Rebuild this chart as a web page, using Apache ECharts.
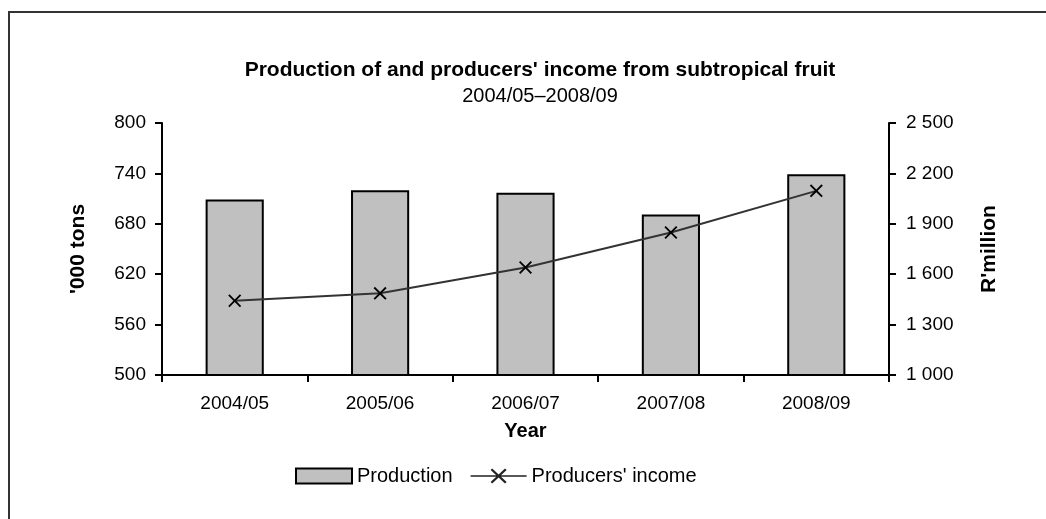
<!DOCTYPE html>
<html>
<head>
<meta charset="utf-8">
<script src="https://cdn.jsdelivr.net/npm/echarts@6/dist/echarts.min.js"></script>
<style>
html,body{margin:0;padding:0;background:#fff;}
#chart{width:1046px;height:519px;}
</style>
</head>
<body>
<div id="chart"></div>
<script>
const categories = ['2004/05', '2005/06', '2006/07', '2007/08', '2008/09'];
const production = [709, 720, 717, 691, 739];
const income = [1442, 1486, 1640, 1848, 2096];
const leftTicks = {min: 500, max: 800, interval: 60};
const rightTicks = {min: 1000, max: 2500, interval: 300};

const FONT = '"Liberation Sans", Arial, sans-serif';
const xPath = 'path://M0,1L1,0L5,4L9,0L10,1L6,5L10,9L9,10L5,6L1,10L0,9L4,5Z';
const legendLinePath = 'path://M0,6.8L56,6.8L56,8.2L0,8.2Z' +
  'M20,1.5L21.6,0L28,6L34.4,0L36,1.5L29.6,7.5L36,13.5L34.4,15L28,9L21.6,15L20,13.5L26.4,7.5Z';

const chart = echarts.init(document.getElementById('chart'));
chart.setOption({
  backgroundColor: '#fff',
  animation: false,
  graphic: [{
    type: 'rect',
    shape: {x: 9, y: 12, width: 1200, height: 700},
    style: {fill: 'none', stroke: '#333', lineWidth: 2},
    silent: true, z: -1
  }],
  title: [{
    text: 'Production of and producers\' income from subtropical fruit',
    left: 535, top: 55, textAlign: 'center',
    textStyle: {fontFamily: FONT, fontSize: 21, fontWeight: 'bold', color: '#000'}
  }, {
    text: '2004/05\u20132008/09',
    left: 535, top: 81, textAlign: 'center',
    textStyle: {fontFamily: FONT, fontSize: 20, fontWeight: 'normal', color: '#000'}
  }],
  legend: {
    left: 290, top: 461,
    itemGap: 18,
    itemWidth: 56, itemHeight: 15,
    textStyle: {fontFamily: FONT, fontSize: 20, color: '#000'},
    data: [
      {name: 'Production', icon: 'rect'},
      {name: 'Producers\' income', icon: legendLinePath, itemStyle: {color: '#222', borderWidth: 0}}
    ]
  },
  grid: {left: 162, right: 157, top: 123, bottom: 144},
  xAxis: {
    type: 'category',
    data: categories,
    name: 'Year',
    nameLocation: 'middle',
    nameGap: 46,
    nameTextStyle: {fontFamily: FONT, fontSize: 20, fontWeight: 'bold', color: '#000'},
    axisLine: {lineStyle: {color: '#000', width: 2}},
    axisTick: {show: true, length: 7, lineStyle: {color: '#000', width: 2}},
    axisLabel: {fontFamily: FONT, fontSize: 19, color: '#000', margin: 19},
    splitLine: {show: false}
  },
  yAxis: [{
    type: 'value',
    min: leftTicks.min, max: leftTicks.max, interval: leftTicks.interval,
    name: '\'000 tons',
    nameLocation: 'middle',
    nameGap: 73,
    nameRotate: 90,
    nameTextStyle: {fontFamily: FONT, fontSize: 21, fontWeight: 'bold', color: '#000'},
    axisLine: {show: true, lineStyle: {color: '#000', width: 2}},
    axisTick: {show: true, length: 7, lineStyle: {color: '#000', width: 2}},
    axisLabel: {fontFamily: FONT, fontSize: 19, color: '#000', margin: 16},
    splitLine: {show: false}
  }, {
    type: 'value',
    position: 'right',
    min: rightTicks.min, max: rightTicks.max, interval: rightTicks.interval,
    name: 'R\'million',
    nameLocation: 'middle',
    nameGap: 90,
    nameRotate: 90,
    nameTextStyle: {fontFamily: FONT, fontSize: 21, fontWeight: 'bold', color: '#000'},
    axisLine: {show: true, lineStyle: {color: '#000', width: 2}},
    axisTick: {show: true, length: 7, lineStyle: {color: '#000', width: 2}},
    axisLabel: {
      fontFamily: FONT, fontSize: 19, color: '#000', margin: 17,
      formatter: v => String(v).replace(/\B(?=(\d{3})+(?!\d))/g, ' ')
    },
    splitLine: {show: false}
  }],
  series: [{
    name: 'Production',
    type: 'bar',
    data: production,
    barWidth: '40%',
    itemStyle: {color: '#c0c0c0', borderColor: '#000', borderWidth: 2}
  }, {
    name: 'Producers\' income',
    type: 'line',
    yAxisIndex: 1,
    data: income,
    symbol: xPath,
    symbolSize: 13,
    lineStyle: {color: '#333', width: 2},
    itemStyle: {color: '#000'}
  }]
});
</script>
</body>
</html>
